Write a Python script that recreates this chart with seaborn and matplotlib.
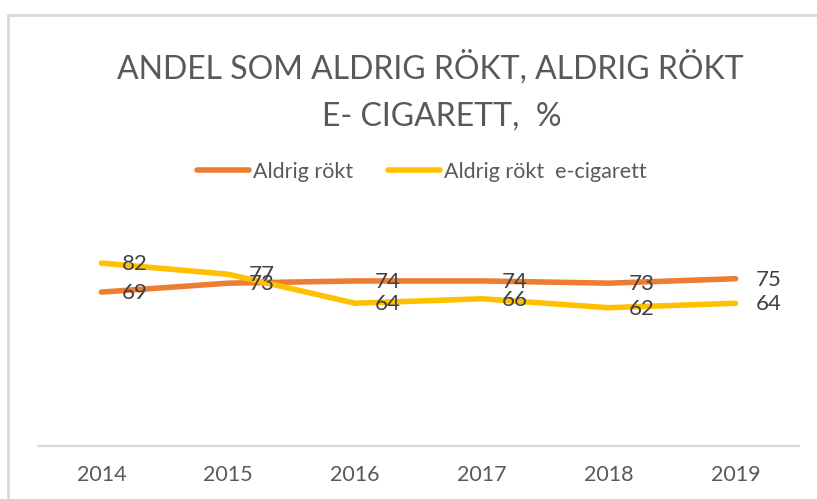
import pandas as pd
import matplotlib.pyplot as plt
from matplotlib.lines import Line2D
import seaborn as sns

# data
years = ['2014', '2015', '2016', '2017', '2018', '2019']
aldrig_rokt = [69, 73, 74, 74, 73, 75]
aldrig_ecig = [82, 77, 64, 66, 62, 64]
series_names = ['Aldrig rökt', 'Aldrig rökt  e-cigarett']
colors = ['#ED7D31', '#FFC000']

df = pd.DataFrame({
    'year': years * 2,
    'value': aldrig_rokt + aldrig_ecig,
    'serie': [series_names[0]] * len(years) + [series_names[1]] * len(years),
})

sns.set_theme(style='white')
plt.rcParams['font.family'] = ['Lato', 'DejaVu Sans']

fig = plt.figure(figsize=(8.17, 4.99), dpi=100)
ax = fig.add_axes([38 / 817, 1 - 446 / 499, (799 - 38) / 817, 0.447])

sns.lineplot(data=df, x='year', y='value', hue='serie', palette=colors,
             linewidth=4, ax=ax, legend=False, sort=False)
for line in ax.lines:
    line.set_solid_capstyle('round')

# datalabels to the right of each point
for vals in (aldrig_rokt, aldrig_ecig):
    for i, v in enumerate(vals):
        ax.annotate(str(v), (i, v), xytext=(33, -1), textcoords='offset pixels',
                    ha='center', va='center', fontsize=16, color='#404040')

ax.set_xlim(-0.5, len(years) - 0.5)
ax.set_ylim(0, 100)
ax.set_xlabel('')
ax.set_ylabel('')
ax.set_yticks([])
for s in ['left', 'right', 'top']:
    ax.spines[s].set_visible(False)
ax.spines['bottom'].set_color('#D9D9D9')
ax.spines['bottom'].set_linewidth(1.5)
ax.tick_params(axis='x', length=0, pad=14, labelsize=15.5, labelcolor='#595959')

# title
fig.text(430 / 817, 1 - 67 / 499, 'ANDEL SOM ALDRIG RÖKT, ALDRIG RÖKT',
         ha='center', va='center', fontsize=23, color='#595959')
fig.text(442 / 817, 1 - 117 / 499, 'E- CIGARETT,  %',
         ha='center', va='center', fontsize=23, color='#595959')

# legend
handles = [Line2D([0], [0], color=c, lw=4, solid_capstyle='round') for c in colors]
fig.legend(handles, series_names, loc='center', bbox_to_anchor=(422 / 817, 1 - 172 / 499),
           ncol=2, frameon=False, fontsize=15.5, handlelength=2.4, handletextpad=0.2,
           columnspacing=1.6, labelcolor='#595959')

# chart border
fig.add_artist(Line2D([7.5 / 817, 7.5 / 817], [0, 1 - 15 / 499], color='#D9D9D9',
                      lw=2, transform=fig.transFigure))
fig.add_artist(Line2D([7.5 / 817, 1], [1 - 15 / 499, 1 - 15 / 499], color='#D9D9D9',
                      lw=2, transform=fig.transFigure))

fig.savefig('out.png', dpi=100)
